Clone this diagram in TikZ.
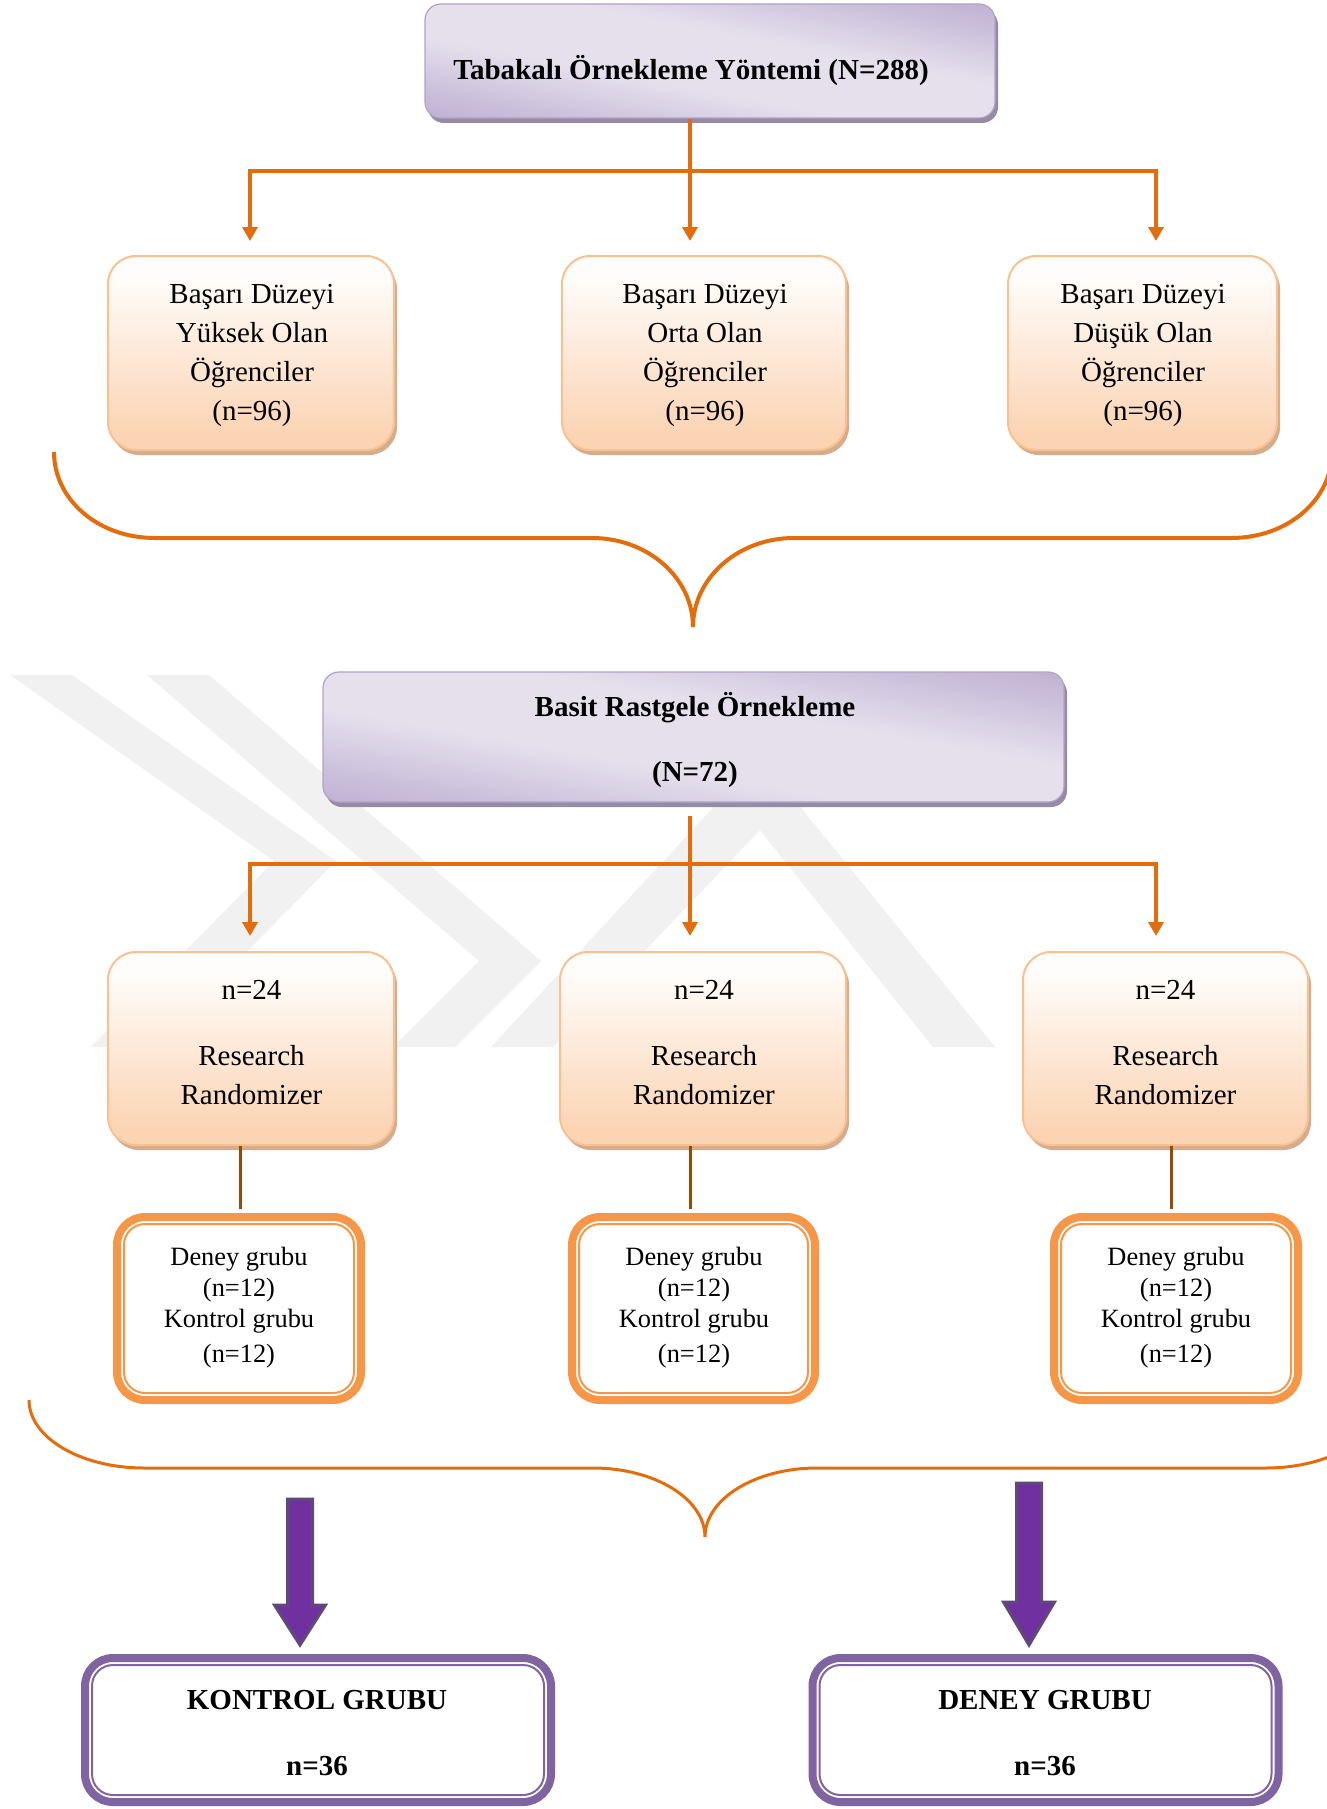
\documentclass[tikz,border=0pt]{standalone}
\usepackage{fontspec}
\setmainfont{Liberation Serif}
\usetikzlibrary{arrows.meta,shadows}
\definecolor{lavL}{RGB}{230,224,237}
\definecolor{lavM}{RGB}{203,192,219}
\definecolor{lavD}{RGB}{174,157,197}
\definecolor{lavB}{RGB}{178,162,199}
\definecolor{lavS}{RGB}{150,138,165}
\definecolor{peach}{RGB}{251,212,180}
\definecolor{peachW}{RGB}{255,253,251}
\definecolor{peachB}{RGB}{250,192,144}
\definecolor{peachS}{RGB}{212,172,142}
\definecolor{orA}{RGB}{228,108,10}
\definecolor{orG}{RGB}{247,150,70}
\definecolor{brn}{RGB}{152,72,7}
\definecolor{purB}{RGB}{128,100,162}
\definecolor{purF}{RGB}{112,48,160}
\definecolor{purE}{RGB}{95,73,122}
\definecolor{wm}{RGB}{241,241,241}
\pgfdeclareverticalshading{lavshade}{100bp}{color(0bp)=(lavD); color(10bp)=(lavD); color(28bp)=(lavM); color(42bp)=(lavL); color(58bp)=(lavL); color(72bp)=(lavM); color(90bp)=(lavD); color(100bp)=(lavD)}
\pgfdeclareverticalshading{peachshade}{100bp}{color(0bp)=(peach); color(29bp)=(peach); color(70bp)=(peachW); color(100bp)=(peachW)}
\begin{document}
\begin{tikzpicture}[x=1pt,y=-1pt,
  purplebox/.style={shade, shading=lavshade, draw=lavB, line width=1.2pt, rounded corners=16pt, inner sep=0pt,
    drop shadow={shadow xshift=3pt, shadow yshift=-5pt, fill=lavS, opacity=1}},
  orbox/.style={shade, shading=peachshade, draw=peachB, line width=2pt, rounded corners=28pt, inner sep=0pt,
    drop shadow={shadow xshift=3pt, shadow yshift=-5pt, fill=peachS, opacity=1}},
  dorange/.style={draw=orG, fill=white, line width=8pt, rounded corners=28pt, inner sep=0pt,
    path picture={\draw[orG, line width=2pt, rounded corners=21pt] ([shift={(7pt,7pt)}]path picture bounding box.south west) rectangle ([shift={(-7pt,-7pt)}]path picture bounding box.north east);}},
  dpurple/.style={draw=purB, fill=white, line width=8pt, rounded corners=28pt, inner sep=0pt,
    path picture={\draw[purB, line width=2pt, rounded corners=21pt] ([shift={(7pt,7pt)}]path picture bounding box.south west) rectangle ([shift={(-7pt,-7pt)}]path picture bounding box.north east);}},
  txt/.style={align=center, inner sep=0pt, font=\fontsize{29}{39}\selectfont},
  btxt/.style={align=center, inner sep=0pt, font=\fontsize{29}{39}\selectfont\bfseries},
  stxt/.style={align=center, inner sep=0pt, font=\fontsize{26.4}{31}\selectfont},
  oline/.style={draw=orA, line width=3.5pt, line join=miter},
  oarrow/.style={oline, -{Triangle[width=15pt,length=14pt]}},
  bline/.style={draw=brn, line width=3pt},
  braceA/.style={draw=orA, line width=4pt},
  braceB/.style={draw=orA, line width=3pt},
  bigarrow/.style={fill=purF, draw=purE, line width=3pt, line join=miter},
  wmark/.style={fill=wm, draw=none}
]
\useasboundingbox (0,0) rectangle (1327,1809);
\clip (0,0) rectangle (1327,1809);
\fill[white] (0,0) rectangle (1327,1809);

% watermark
\fill[wmark] (10,675) -- (72,675) -- (336,861) -- (153,1047) -- (91,1047) -- (274,861) -- cycle;
\fill[wmark] (147,675) -- (209,675) -- (541,961) -- (455,1047) -- (393,1047) -- (479,961) -- cycle;
\fill[wmark] (491,1047) -- (760,757) -- (995,1047) -- (933,1047) -- (760,830) -- (553,1047) -- cycle;

% boxes
\node[purplebox, shading angle=-11, minimum width=570pt, minimum height=114pt] (top) at (710,61) {};
\node[btxt] (toptext) at (691,71) {Tabakalı Örnekleme Yöntemi (N=288)};

\node[orbox, minimum width=286pt, minimum height=194pt] (b1) at (251,353) {};
\node[orbox, minimum width=284pt, minimum height=194pt] (b2) at (704,353) {};
\node[orbox, minimum width=269pt, minimum height=194pt] (b3) at (1142.5,353) {};
\node[txt] (t1) at (252,355) {Başarı Düzeyi\\Yüksek Olan\\Öğrenciler\\(n=96)};
\node[txt] (t2) at (705,355) {Başarı Düzeyi\\Orta Olan\\Öğrenciler\\(n=96)};
\node[txt] (t3) at (1143,355) {Başarı Düzeyi\\Düşük Olan\\Öğrenciler\\(n=96)};

\node[purplebox, shading angle=-10, minimum width=741pt, minimum height=130pt] (basit) at (693.5,737) {};
\node[btxt] (basittext) at (695,740) {Basit Rastgele Örnekleme\\[26pt](N=72)};

\node[orbox, minimum width=286pt, minimum height=193pt] (c1) at (251,1048.5) {};
\node[orbox, minimum width=286pt, minimum height=193pt] (c2) at (703,1048.5) {};
\node[orbox, minimum width=285pt, minimum height=193pt] (c3) at (1165.5,1048.5) {};
\node[txt] (u1) at (251.5,1043) {n=24\\[27pt]Research\\Randomizer};
\node[txt] (u2) at (704,1043) {n=24\\[27pt]Research\\Randomizer};
\node[txt] (u3) at (1165.5,1043) {n=24\\[27pt]Research\\Randomizer};

\node[dorange, minimum width=244pt, minimum height=183pt] (d1) at (239,1308.5) {};
\node[dorange, minimum width=243pt, minimum height=183pt] (d2) at (693.5,1308.5) {};
\node[dorange, minimum width=244pt, minimum height=183pt] (d3) at (1176,1308.5) {};
\node[stxt] (v1) at (239,1308) {Deney grubu\\(n=12)\\Kontrol grubu\\[4pt](n=12)};
\node[stxt] (v2) at (694,1308) {Deney grubu\\(n=12)\\Kontrol grubu\\[4pt](n=12)};
\node[stxt] (v3) at (1176,1308) {Deney grubu\\(n=12)\\Kontrol grubu\\[4pt](n=12)};

\node[dpurple, minimum width=466pt, minimum height=144pt] (k1) at (318,1730) {};
\node[dpurple, minimum width=466pt, minimum height=144pt] (k2) at (1045.5,1730) {};
\node[btxt] (w1) at (317,1733) {KONTROL GRUBU\\[27pt]n=36};
\node[btxt] (w2) at (1045,1733) {DENEY GRUBU\\[27pt]n=36};

% connector coordinates
\coordinate (xl) at (250,0);
\coordinate (xm) at (690,0);
\coordinate (xr) at (1156,0);
\coordinate (h1) at (0,171);
\coordinate (h2) at (0,864);
\coordinate (ya) at (240,0);
\coordinate (yb) at (690,0);
\coordinate (yc) at (1171,0);

% level 1 -> 2
\draw[oarrow, shorten >=14pt] (top.south -| xm) -- (b2.north -| xm);
\draw[oarrow, shorten >=14pt] (h1 -| xm) -- (h1 -| xl) -- (b1.north -| xl);
\draw[oarrow, shorten >=14pt] (h1 -| xm) -- (h1 -| xr) -- (b3.north -| xr);

% level 3 -> 4
\draw[oarrow, shorten <=13pt, shorten >=15pt] (basit.south -| xm) -- (c2.north -| xm);
\draw[oarrow, shorten >=15pt] (h2 -| xm) -- (h2 -| xl) -- (c1.north -| xl);
\draw[oarrow, shorten >=15pt] (h2 -| xm) -- (h2 -| xr) -- (c3.north -| xr);

% level 4 -> 5
\draw[bline, shorten >=4pt] (c1.south -| ya) -- (d1.north -| ya);
\draw[bline, shorten >=4pt] (c2.south -| yb) -- (d2.north -| yb);
\draw[bline, shorten >=4pt] (c3.south -| yc) -- (d3.north -| yc);

% braces
\draw[braceA] (54,452) .. controls (54,499.5) and (98,538) .. (155,538)
  -- (592,538) .. controls (648,538) and (693,578) .. (693,627)
  .. controls (693,578) and (738,538) .. (794,538)
  -- (1231,538) .. controls (1288,538) and (1332,499.5) .. (1332,452);
\draw[braceB] (29,1400) .. controls (29,1437.5) and (80.5,1468) .. (144,1468)
  -- (593,1468) .. controls (655,1468) and (705,1499) .. (705,1537)
  .. controls (705,1499) and (755,1468) .. (817,1468)
  -- (1266,1468) .. controls (1329.5,1468) and (1381,1437.5) .. (1381,1400);

% big purple arrows
\draw[bigarrow] (287.5,1499) -- (312.5,1499) -- (312.5,1605) -- (325.5,1605) -- (300,1645) -- (274.5,1605) -- (287.5,1605) -- cycle;
\draw[bigarrow] (1016.5,1483) -- (1041.5,1483) -- (1041.5,1602) -- (1054.5,1602) -- (1029,1645) -- (1003.5,1602) -- (1016.5,1602) -- cycle;
\end{tikzpicture}
\end{document}
